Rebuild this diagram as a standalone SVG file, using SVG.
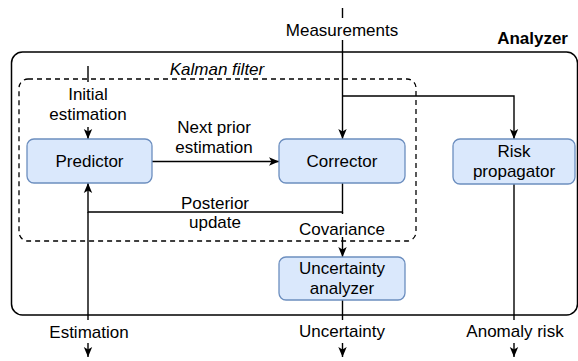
<svg xmlns="http://www.w3.org/2000/svg" width="578" height="361" viewBox="0 0 578 361">
<style>
text{font-family:"Liberation Sans",Arial,sans-serif;font-size:17px;fill:#000;text-anchor:middle}
.node{fill:#dae8fc;stroke:#6c8ebf;stroke-width:1.3}
.edge{fill:none;stroke:#000;stroke-width:1.4}
.bg{fill:#fff}
</style>
<defs>
<marker id="arr" markerUnits="userSpaceOnUse" markerWidth="12" markerHeight="10" viewBox="0 0 12 10" refX="11" refY="5" orient="auto">
<path d="M1,0.8 L11,5 L1,9.2 L3.5,5 Z" fill="#000"/>
</marker>
</defs>
<g id="analyzer">
<rect x="11.5" y="52" width="566" height="263" rx="11" fill="none" stroke="#000" stroke-width="1.5"/>
<text x="568" y="44" style="font-weight:bold;text-anchor:end">Analyzer</text>
</g>
<g id="kalman">
<rect x="19" y="79" width="397" height="162" rx="9" fill="none" stroke="#000" stroke-width="1.3" stroke-dasharray="5 4"/>
<text x="217" y="75" style="font-style:italic">Kalman filter</text>
</g>
<g id="connectors">
<path class="edge" d="M342.5,8 V139" marker-end="url(#arr)"/>
<path class="edge" d="M342.5,96 H514 V139" marker-end="url(#arr)"/>
<path class="edge" d="M88,66 V139" marker-end="url(#arr)"/>
<path class="edge" d="M152,161.5 H279" marker-end="url(#arr)"/>
<path class="edge" d="M342.5,183 V212 H88 V183" marker-end="url(#arr)"/>
<path class="edge" d="M88,212 V357" marker-end="url(#arr)"/>
<path class="edge" d="M342.5,212 V257" marker-end="url(#arr)"/>
<path class="edge" d="M342.5,300 V357" marker-end="url(#arr)"/>
<path class="edge" d="M514,184 V357" marker-end="url(#arr)"/>
<rect class="bg" x="284" y="18" width="117" height="22"/>
<text x="342" y="36">Measurements</text>
<rect class="bg" x="46" y="82" width="84" height="45"/>
<text x="88" y="100">Initial</text>
<text x="88" y="120">estimation</text>
<text x="214" y="133">Next prior</text>
<text x="214" y="153">estimation</text>
<text x="215" y="209">Posterior</text>
<text x="215" y="228">update</text>
<rect class="bg" x="296" y="214" width="92" height="23"/>
<text x="342" y="235">Covariance</text>
<rect class="bg" x="46" y="320" width="86" height="23"/>
<text x="89" y="338">Estimation</text>
<rect class="bg" x="297" y="320" width="90" height="23"/>
<text x="342" y="337">Uncertainty</text>
<rect class="bg" x="463" y="320" width="102" height="23"/>
<text x="515" y="337">Anomaly risk</text>
</g>
<g id="predictor">
<rect class="node" x="27" y="139" width="125" height="44" rx="7"/>
<text x="89.5" y="167">Predictor</text>
</g>
<g id="corrector">
<rect class="node" x="279" y="139" width="126" height="44" rx="7"/>
<text x="342" y="167">Corrector</text>
</g>
<g id="risk">
<rect class="node" x="453" y="139" width="122" height="45" rx="7"/>
<text x="514" y="157">Risk</text>
<text x="514" y="177">propagator</text>
</g>
<g id="uncertainty">
<rect class="node" x="279" y="257" width="126" height="43" rx="7"/>
<text x="342" y="274">Uncertainty</text>
<text x="342" y="294">analyzer</text>
</g>
</svg>
